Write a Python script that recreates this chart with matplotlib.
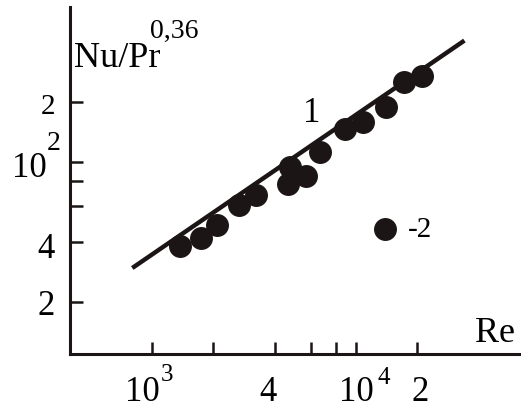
import matplotlib
matplotlib.use("Agg")
import matplotlib.pyplot as plt
from matplotlib.ticker import FixedLocator, NullLocator, NullFormatter

plt.rcParams["font.family"] = "serif"
plt.rcParams["font.serif"] = ["Liberation Serif", "DejaVu Serif"]

# measured points (series 1) and the single point of series 2
re_pts = [1370, 1740, 2080, 2670, 3240, 4640, 4750, 5690, 6660, 8830, 10800, 14000, 17200, 21000]
nu_pts = [38.0, 41.7, 48.4, 61.0, 68.4, 77.6, 94.4, 85.1, 112, 146, 158, 188, 251, 269]
re_iso = [13900]
nu_iso = [46.2]

# correlation line 1
line_re = [800, 34000]
line_nu = [29.5, 405]

x_ticks = [1e3, 2e3, 4e3, 6e3, 8e3, 1e4, 2e4]
y_ticks = [20, 40, 60, 80, 100, 200]

INK = "#1c1515"

fig = plt.figure(figsize=(5.21, 4.10), dpi=100)
ax = fig.add_axes([70 / 521, 55 / 410, 451 / 521, 347 / 410])
ax.set_xscale("log")
ax.set_yscale("log")
ax.set_xlim(396, 64400)
ax.set_ylim(10.96, 596)

ax.plot(line_re, line_nu, color=INK, lw=3.2, solid_capstyle="butt", zorder=2)
ax.plot(re_pts, nu_pts, "o", color=INK, ms=15.5, mec=INK, zorder=3)
ax.plot(re_iso, nu_iso, "o", color=INK, ms=15.5, mec=INK, zorder=3)

for side in ("top", "right"):
    ax.spines[side].set_visible(False)
for side in ("left", "bottom"):
    ax.spines[side].set_linewidth(2.2)
    ax.spines[side].set_color(INK)

ax.xaxis.set_major_locator(FixedLocator(x_ticks))
ax.yaxis.set_major_locator(FixedLocator(y_ticks))
ax.xaxis.set_minor_locator(NullLocator())
ax.yaxis.set_minor_locator(NullLocator())
ax.xaxis.set_major_formatter(NullFormatter())
ax.yaxis.set_major_formatter(NullFormatter())
ax.tick_params(which="major", direction="in", length=9, width=1.8, color=INK)

fs = 25
sup = 18
bx = ax.get_xaxis_transform()
by = ax.get_yaxis_transform()

# x tick labels (hand placed like the original drawing)
ax.text(1094, -0.1326, "10", transform=bx, ha="right", va="baseline", fontsize=fs)
ax.text(1105, -0.075, "3", transform=bx, ha="left", va="baseline", fontsize=sup)
ax.text(3700, -0.1326, "4", transform=bx, ha="center", va="baseline", fontsize=fs)
ax.text(1e4, -0.1326, "10", transform=bx, ha="center", va="baseline", fontsize=fs)
ax.text(12700, -0.083, "4", transform=bx, ha="left", va="baseline", fontsize=sup)
ax.text(20600, -0.1326, "2", transform=bx, ha="center", va="baseline", fontsize=fs)

# y tick labels
ax.text(-0.033, 176, "2", transform=by, ha="right", va="baseline", fontsize=21)
ax.text(-0.051, 85.1, "10", transform=by, ha="right", va="baseline", fontsize=fs)
ax.text(-0.051, 116, "2", transform=by, ha="left", va="baseline", fontsize=sup + 2)
ax.text(-0.033, 33.5, "4", transform=by, ha="right", va="baseline", fontsize=fs)
ax.text(-0.033, 17.4, "2", transform=by, ha="right", va="baseline", fontsize=fs)

# axis titles
ax.text(0.009, 0.830, "Nu/Pr", transform=ax.transAxes, ha="left", va="baseline", fontsize=26)
ax.text(0.177, 0.914, "0,36", transform=ax.transAxes, ha="left", va="baseline", fontsize=20)
ax.text(0.898, 0.037, "Re", transform=ax.transAxes, ha="left", va="baseline", fontsize=26)

# curve labels
ax.text(6085, 160, "1", ha="center", va="baseline", fontsize=fs)
ax.text(18000, 42.7, "-2", ha="left", va="baseline", fontsize=21)

fig.savefig("out.png", dpi=100)
